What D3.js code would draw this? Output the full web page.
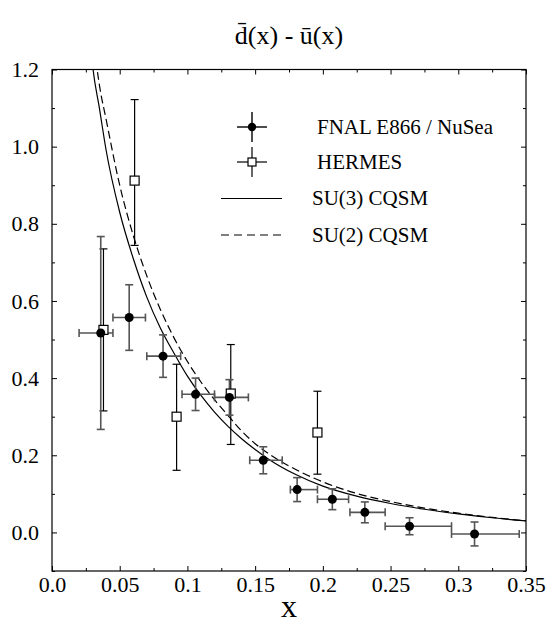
<!DOCTYPE html>
<html>
<head>
<meta charset="utf-8">
<script src="https://cdn.jsdelivr.net/npm/d3@7/dist/d3.min.js"></script>
<style>
  body { margin: 0; background: #fff; }
</style>
</head>
<body>
<svg id="chart" width="550" height="635" style="font-family:'Liberation Serif','DejaVu Serif',serif"></svg>
<script>
// ---- data -------------------------------------------------------------
// FNAL E866 / NuSea: bin mean x, value, symmetric error, bin edges
const e866X    = [0.036, 0.057, 0.082, 0.106, 0.131, 0.156, 0.181, 0.207, 0.231, 0.264, 0.312];
const e866Y    = [0.517, 0.557, 0.457, 0.358, 0.350, 0.187, 0.111, 0.086, 0.052, 0.016, -0.004];
const e866Err  = [0.250, 0.085, 0.055, 0.042, 0.046, 0.035, 0.031, 0.027, 0.027, 0.022, 0.031];
const e866XLo  = [0.020, 0.045, 0.070, 0.096, 0.120, 0.146, 0.176, 0.196, 0.220, 0.246, 0.295];
const e866XHi  = [0.045, 0.069, 0.095, 0.120, 0.145, 0.170, 0.196, 0.219, 0.246, 0.295, 0.345];

// HERMES: x, value, upper and lower errors
const hermesX     = [0.038, 0.061, 0.092, 0.132, 0.196];
const hermesY     = [0.525, 0.912, 0.300, 0.360, 0.259];
const hermesErrUp = [0.210, 0.210, 0.136, 0.127, 0.107];
const hermesErrDn = [0.210, 0.168, 0.139, 0.132, 0.108];

// Chiral quark soliton model curves
const su3X = [0.026, 0.030, 0.035, 0.040, 0.050, 0.060, 0.070, 0.080, 0.090, 0.100, 0.110, 0.120,
              0.130, 0.140, 0.150, 0.160, 0.180, 0.200, 0.225, 0.250, 0.275, 0.300, 0.325, 0.350];
const su3Y = [1.38, 1.21, 1.10, 0.99, 0.83, 0.71, 0.61, 0.53, 0.465, 0.405, 0.355, 0.312,
              0.275, 0.243, 0.215, 0.190, 0.150, 0.120, 0.094, 0.075, 0.060, 0.048, 0.038, 0.030];
const su2X = [0.029, 0.033, 0.035, 0.040, 0.050, 0.060, 0.070, 0.080, 0.090, 0.100, 0.110, 0.120,
              0.130, 0.140, 0.150, 0.160, 0.180, 0.200, 0.225, 0.250, 0.275, 0.300, 0.325, 0.350];
const su2Y = [1.38, 1.21, 1.16, 1.07, 0.90, 0.77, 0.665, 0.578, 0.505, 0.443, 0.390, 0.344,
              0.303, 0.263, 0.230, 0.204, 0.163, 0.131, 0.101, 0.080, 0.063, 0.050, 0.039, 0.030];

// axis ticks
const xTickVals   = [0, 0.05, 0.1, 0.15, 0.2, 0.25, 0.3, 0.35];
const xTickLabels = ["0.0", "0.05", "0.1", "0.15", "0.2", "0.25", "0.3", "0.35"];
const xMinorVals  = [0.025, 0.075, 0.125, 0.175, 0.225, 0.275, 0.325];
const yTickVals   = [0, 0.2, 0.4, 0.6, 0.8, 1.0, 1.2];
const yTickLabels = ["0.0", "0.2", "0.4", "0.6", "0.8", "1.0", "1.2"];
const yMinorVals  = [-0.1, 0.1, 0.3, 0.5, 0.7, 0.9, 1.1];

const legendLabels = ["FNAL E866 / NuSea", "HERMES", "SU(3) CQSM", "SU(2) CQSM"];

// ---- layout -----------------------------------------------------------
const FONT = "'Liberation Serif', 'DejaVu Serif', serif";
const L = 52, R = 526, T = 69.5, B = 571;
const svg = d3.select("#chart");
const x = d3.scaleLinear().domain([0, 0.35]).range([L, R]);
const y = d3.scaleLinear().domain([-0.1, 1.2]).range([B, T]);

svg.append("defs").append("clipPath").attr("id", "plotClip")
  .append("rect").attr("x", L).attr("y", T).attr("width", R - L).attr("height", B - T);

// ---- axes (ticks on all four sides, pointing inward) ------------------
function styleAxis(g) {
  g.attr("font-family", FONT);
  g.select(".domain").remove();
  g.selectAll("line").attr("stroke", "#000").attr("stroke-width", 1);
  g.selectAll("text").style("font-family", FONT).style("font-size", "22px").attr("fill", "#000");
}
const major = 5, minor = 3;
svg.append("g").attr("transform", `translate(0,${B})`)
  .call(d3.axisBottom(x).tickValues(xTickVals).tickSize(-major).tickPadding(5)
        .tickFormat((d, i) => xTickLabels[i])).call(styleAxis);
svg.append("g").attr("transform", `translate(0,${B})`)
  .call(d3.axisBottom(x).tickValues(xMinorVals).tickSize(-minor).tickFormat("")).call(styleAxis);
svg.append("g").attr("transform", `translate(0,${T})`)
  .call(d3.axisTop(x).tickValues(xTickVals).tickSize(-major).tickFormat("")).call(styleAxis);
svg.append("g").attr("transform", `translate(0,${T})`)
  .call(d3.axisTop(x).tickValues(xMinorVals).tickSize(-minor).tickFormat("")).call(styleAxis);
svg.append("g").attr("transform", `translate(${L},0)`)
  .call(d3.axisLeft(y).tickValues(yTickVals).tickSize(-major).tickPadding(13)
        .tickFormat((d, i) => yTickLabels[i])).call(styleAxis);
svg.append("g").attr("transform", `translate(${L},0)`)
  .call(d3.axisLeft(y).tickValues(yMinorVals).tickSize(-minor).tickFormat("")).call(styleAxis);
svg.append("g").attr("transform", `translate(${R},0)`)
  .call(d3.axisRight(y).tickValues(yTickVals).tickSize(-major).tickFormat("")).call(styleAxis);
svg.append("g").attr("transform", `translate(${R},0)`)
  .call(d3.axisRight(y).tickValues(yMinorVals).tickSize(-minor).tickFormat("")).call(styleAxis);

// frame
svg.append("rect").attr("x", L).attr("y", T).attr("width", R - L).attr("height", B - T)
  .attr("fill", "none").attr("stroke", "#000").attr("stroke-width", 1.2);

// ---- model curves -----------------------------------------------------
const line = d3.line().x(d => x(d[0])).y(d => y(d[1])).curve(d3.curveMonotoneX);
const curves = svg.append("g").attr("clip-path", "url(#plotClip)");
curves.append("path").datum(su3X.map((v, i) => [v, su3Y[i]]))
  .attr("d", line).attr("fill", "none").attr("stroke", "#000").attr("stroke-width", 1.2);
curves.append("path").datum(su2X.map((v, i) => [v, su2Y[i]]))
  .attr("d", line).attr("fill", "none").attr("stroke", "#000").attr("stroke-width", 1.2)
  .attr("stroke-dasharray", "8,4");

// ---- HERMES error bars --------------------------------------------------
const cap = 4;
const hermes = svg.append("g").attr("stroke", "#000").attr("stroke-width", 1.2);
hermesX.forEach((xv, i) => {
  const cx = x(xv), yt = y(hermesY[i] + hermesErrUp[i]), yb = y(hermesY[i] - hermesErrDn[i]);
  hermes.append("line").attr("x1", cx).attr("x2", cx).attr("y1", yt).attr("y2", yb);
  hermes.append("line").attr("x1", cx - cap).attr("x2", cx + cap).attr("y1", yt).attr("y2", yt);
  hermes.append("line").attr("x1", cx - cap).attr("x2", cx + cap).attr("y1", yb).attr("y2", yb);
});

// ---- E866 error bars ----------------------------------------------------
const e866 = svg.append("g").attr("stroke", "#555").attr("stroke-width", 1.6);
e866X.forEach((xv, i) => {
  const cx = x(xv), cy = y(e866Y[i]);
  const yt = y(e866Y[i] + e866Err[i]), yb = y(e866Y[i] - e866Err[i]);
  const xl = x(e866XLo[i]), xr = x(e866XHi[i]);
  e866.append("line").attr("x1", cx).attr("x2", cx).attr("y1", yt).attr("y2", yb);
  e866.append("line").attr("x1", cx - cap).attr("x2", cx + cap).attr("y1", yt).attr("y2", yt);
  e866.append("line").attr("x1", cx - cap).attr("x2", cx + cap).attr("y1", yb).attr("y2", yb);
  e866.append("line").attr("x1", xl).attr("x2", xr).attr("y1", cy).attr("y2", cy);
  e866.append("line").attr("x1", xl).attr("x2", xl).attr("y1", cy - cap).attr("y2", cy + cap);
  e866.append("line").attr("x1", xr).attr("x2", xr).attr("y1", cy - cap).attr("y2", cy + cap);
});
// markers on top of the bars
hermesX.forEach((xv, i) => {
  svg.append("rect").attr("x", x(xv) - 4.5).attr("y", y(hermesY[i]) - 4.5)
    .attr("width", 9).attr("height", 9).attr("fill", "#fff").attr("stroke", "#000").attr("stroke-width", 1.2);
});
e866X.forEach((xv, i) => {
  svg.append("circle").attr("cx", x(xv)).attr("cy", y(e866Y[i])).attr("r", 4.5).attr("fill", "#000");
});

// ---- legend -----------------------------------------------------------
const lg = svg.append("g");
const mx = 252;
lg.append("line").attr("x1", mx - 15).attr("x2", mx + 15).attr("y1", 127).attr("y2", 127).attr("stroke", "#000").attr("stroke-width", 1.4);
lg.append("line").attr("x1", mx).attr("x2", mx).attr("y1", 112).attr("y2", 142).attr("stroke", "#000").attr("stroke-width", 1.4);
lg.append("circle").attr("cx", mx).attr("cy", 127).attr("r", 4.2).attr("fill", "#000");
lg.append("line").attr("x1", mx - 15).attr("x2", mx + 15).attr("y1", 162).attr("y2", 162).attr("stroke", "#000").attr("stroke-width", 1.2);
lg.append("line").attr("x1", mx).attr("x2", mx).attr("y1", 147).attr("y2", 177).attr("stroke", "#000").attr("stroke-width", 1.2);
lg.append("rect").attr("x", mx - 4).attr("y", 158).attr("width", 8).attr("height", 8).attr("fill", "#fff").attr("stroke", "#000").attr("stroke-width", 1.2);
lg.append("line").attr("x1", 221).attr("x2", 282).attr("y1", 198.5).attr("y2", 198.5).attr("stroke", "#000").attr("stroke-width", 1.2);
lg.append("line").attr("x1", 221).attr("x2", 282).attr("y1", 235).attr("y2", 235).attr("stroke", "#000").attr("stroke-width", 1.2).attr("stroke-dasharray", "8,5");
const legendY = [134, 169, 205, 242];
const legendX = [317, 317, 312, 312];
legendLabels.forEach((t, i) => {
  lg.append("text").attr("x", legendX[i]).attr("y", legendY[i])
    .style("font-family", FONT).style("font-size", "21px").text(t);
});

// ---- titles -----------------------------------------------------------
svg.append("text").attr("x", (L + R) / 2).attr("y", 44).attr("text-anchor", "middle")
  .style("font-family", FONT).style("font-size", "26px").text("d\u0304(x) - u\u0304(x)");
svg.append("text").attr("x", (L + R) / 2).attr("y", 617).attr("text-anchor", "middle")
  .style("font-family", FONT).style("font-size", "32px").text("x");
</script>
</body>
</html>
